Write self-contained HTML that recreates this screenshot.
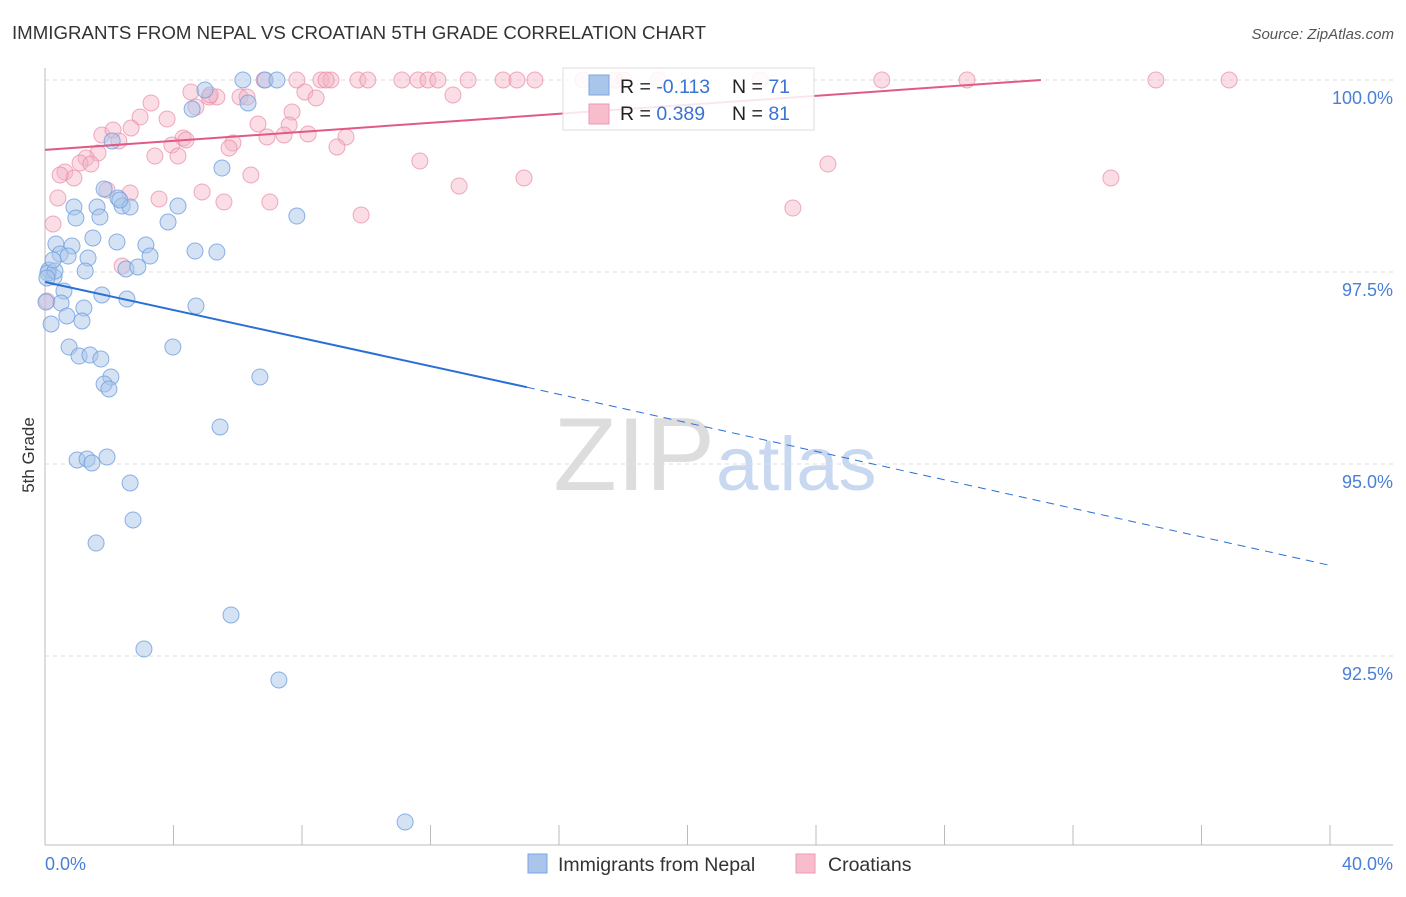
<!DOCTYPE html>
<html><head><meta charset="utf-8"><style>
body{margin:0;background:#fff;font-family:"Liberation Sans",sans-serif;}
svg text{font-family:"Liberation Sans",sans-serif;}
</style></head><body>
<svg width="1406" height="892" viewBox="0 0 1406 892">
<text x="12" y="39" font-size="18" fill="#333" textLength="694" lengthAdjust="spacingAndGlyphs">IMMIGRANTS FROM NEPAL VS CROATIAN 5TH GRADE CORRELATION CHART</text>
<text x="1394" y="39" font-size="15" fill="#555" font-style="italic" text-anchor="end">Source: ZipAtlas.com</text>
<text x="715" y="490" font-size="104" fill="#ddd" text-anchor="end" font-family="Liberation Serif">ZIP</text>
<text x="716" y="490" font-size="76" fill="#c8d8f0">atlas</text>
<g id="grid"></g>
<g id="axes"></g>
<g id="pts"></g>
<g id="lines"></g>
<text x="34" y="455" font-size="17" fill="#333" transform="rotate(-90 34 455)" text-anchor="middle">5th Grade</text>
<text x="45" y="870" font-size="18" fill="#4a7fd6">0.0%</text>
<text x="1393" y="870" font-size="18" fill="#4a7fd6" text-anchor="end">40.0%</text>
<g>
<rect x="563" y="68" width="251" height="62" fill="#fff" fill-opacity="0.85" stroke="#ddd"/>
<rect x="589" y="75" width="20" height="20" fill="#a9c5ea" stroke="#7aa5e3"/>
<rect x="589" y="104" width="20" height="20" fill="#f8bdcc" stroke="#eb9ab0"/>
<text x="620" y="93" font-size="19.5" fill="#222">R = <tspan fill="#3b73d1">-0.113</tspan></text>
<text x="732" y="93" font-size="19.5" fill="#222">N = <tspan fill="#3b73d1">71</tspan></text>
<text x="620" y="120" font-size="19.5" fill="#222">R = <tspan fill="#3b73d1">0.389</tspan></text>
<text x="732" y="120" font-size="19.5" fill="#222">N = <tspan fill="#3b73d1">81</tspan></text>
</g>
<g>
<rect x="528" y="854" width="19" height="19" fill="#a9c5ea" stroke="#7aa5e3"/>
<text x="558" y="871" font-size="19.5" fill="#333">Immigrants from Nepal</text>
<rect x="796" y="854" width="19" height="19" fill="#f8bdcc" stroke="#eb9ab0"/>
<text x="828" y="871" font-size="19.5" fill="#333">Croatians</text>
</g>
</svg>
<script>
const ns="http://www.w3.org/2000/svg";
const yTicks=[100,97.5,95,92.5];
const yTickLabels=["100.0%","97.5%","95.0%","92.5%"];
const nepalPx=[[265,80],[243,80],[277,80],[205,90],[248,103],[192,109],[112,141],[222,168],[104,189],[118,198],[122,206],[130,207],[178,206],[74,207],[97,207],[76,218],[100,217],[168,222],[297,216],[56,244],[72,246],[93,238],[117,242],[146,245],[60,254],[68,256],[88,258],[150,256],[195,251],[217,252],[49,270],[54,277],[85,271],[126,269],[138,267],[48,273],[64,291],[102,295],[127,299],[61,303],[84,308],[196,306],[67,316],[82,321],[51,324],[69,347],[173,347],[79,356],[90,355],[101,359],[111,377],[260,377],[104,384],[109,389],[220,427],[77,460],[87,459],[92,463],[107,457],[130,483],[133,520],[96,543],[231,615],[144,649],[279,680],[405,822],[46,302],[55,271],[53,260],[47,278],[120,200]];
const croatPx=[[264,80],[297,80],[321,80],[331,80],[358,80],[368,80],[402,80],[418,80],[428,80],[438,80],[468,80],[503,80],[517,80],[535,80],[583,80],[615,80],[624,80],[658,80],[760,80],[882,80],[967,80],[1156,80],[1229,80],[326,80],[305,92],[316,98],[453,95],[191,92],[209,97],[217,97],[240,97],[247,97],[151,103],[196,107],[292,112],[140,117],[167,119],[258,124],[289,125],[102,135],[113,130],[131,128],[183,138],[233,143],[267,137],[284,135],[308,134],[346,137],[119,141],[172,145],[229,148],[337,147],[98,153],[86,158],[155,156],[178,156],[80,163],[91,164],[420,161],[828,164],[65,172],[74,178],[251,175],[524,178],[1111,178],[459,186],[107,190],[202,192],[58,198],[159,199],[224,202],[270,202],[793,208],[361,215],[53,224],[122,266],[47,301],[130,193],[210,95],[186,140],[60,175]];
const nepalX=nepalPx.map(p=>+((p[0]-45)/1285*40).toFixed(2));
const nepalY=nepalPx.map(p=>+(100-(p[1]-80)/76.8).toFixed(3));
const croatX=croatPx.map(p=>+((p[0]-45)/1285*40).toFixed(2));
const croatY=croatPx.map(p=>+(100-(p[1]-80)/76.8).toFixed(3));
const nepalTrend=[[0,97.37],[15,96.0],[40,93.68]];
const croatTrend=[[0,99.09],[31,100]];
const X=v=>45+v/40*1285, Y=v=>80+(100-v)*76.8;
function el(t,a,p){const e=document.createElementNS(ns,t);for(const k in a)e.setAttribute(k,a[k]);document.getElementById(p).appendChild(e);return e;}
yTicks.forEach((t,i)=>{
 const g=el('line',{x1:45,x2:1393,y1:Y(t),y2:Y(t),stroke:'#ddd','stroke-dasharray':'4,4'},'grid');
 
 
 const tx=el('text',{x:1393,y:Y(t)+24,'font-size':18,fill:'#4a7fd6','text-anchor':'end'},'grid');
 tx.textContent=yTickLabels[i];
 
 
});
const a1=el('line',{x1:45,x2:45,y1:68,y2:845,stroke:'#bbb'},'axes');


const a2=el('line',{x1:45,x2:1393,y1:845,y2:845,stroke:'#bbb'},'axes');


for(let i=0;i<=10;i++){const t=el('line',{x1:X(i*4),x2:X(i*4),y1:825,y2:845,stroke:'#bbb'},'axes');
 
 }
croatX.forEach((x,i)=>{const c=el('circle',{cx:X(x),cy:Y(croatY[i]),r:8,fill:'#f5b3c6','fill-opacity':0.45,stroke:'#e88aa5','stroke-opacity':0.7},'pts');
 
 });
nepalX.forEach((x,i)=>{const c=el('circle',{cx:X(x),cy:Y(nepalY[i]),r:8,fill:'#a9c5ea','fill-opacity':0.5,stroke:'#6f9fe0','stroke-opacity':0.8},'pts');
 
 });
const l1=el('line',{x1:X(nepalTrend[0][0]),y1:Y(nepalTrend[0][1]),x2:X(nepalTrend[1][0]),y2:Y(nepalTrend[1][1]),stroke:'#2a6fd6','stroke-width':2},'lines');


const l2=el('line',{x1:X(nepalTrend[1][0]),y1:Y(nepalTrend[1][1]),x2:X(nepalTrend[2][0]),y2:Y(nepalTrend[2][1]),stroke:'#2a6fd6','stroke-width':1,'stroke-dasharray':'8,6'},'lines');


const l3=el('line',{x1:X(croatTrend[0][0]),y1:Y(croatTrend[0][1]),x2:X(croatTrend[1][0]),y2:Y(croatTrend[1][1]),stroke:'#e05a85','stroke-width':2},'lines');


</script>
</body></html>
